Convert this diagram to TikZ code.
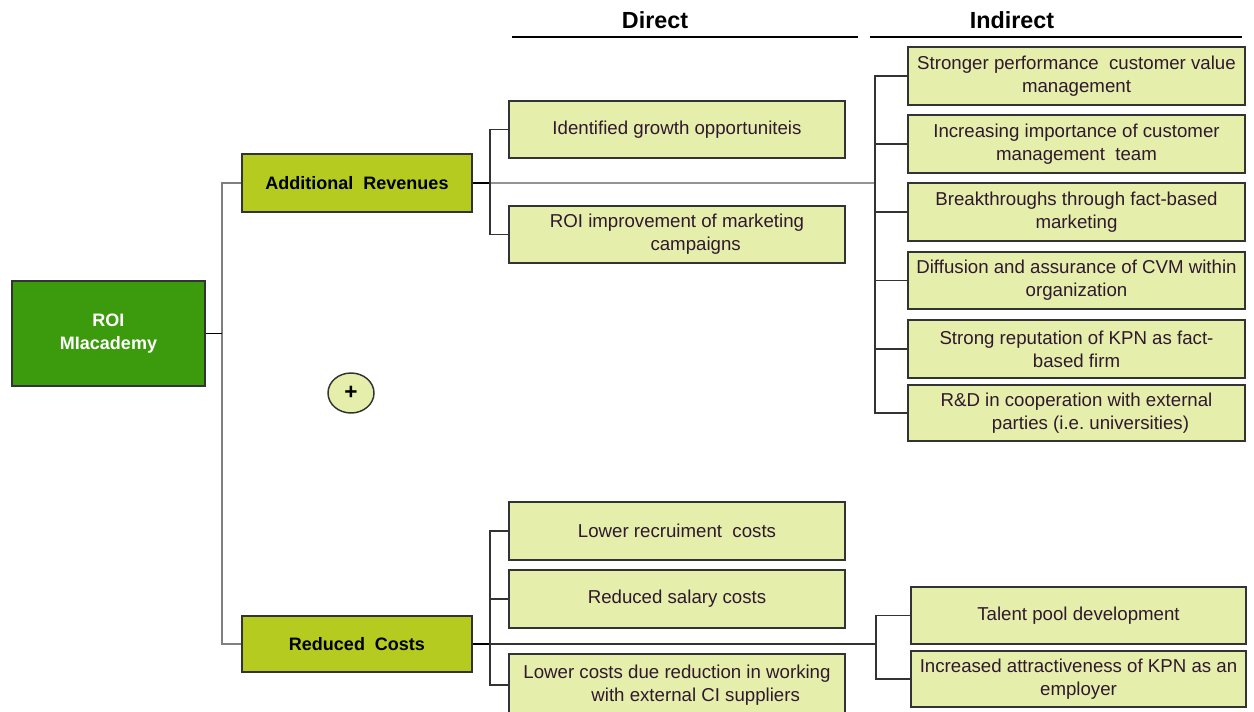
\documentclass[tikz,border=0pt]{standalone}
\usepackage{fontspec}
\setmainfont{Liberation Sans}
\usetikzlibrary{shapes.geometric}
\definecolor{roigreen}{HTML}{3C9A0D}
\definecolor{midgreen}{HTML}{B5CB1F}
\definecolor{lightgreen}{HTML}{E5EFAB}
\definecolor{boxtext}{HTML}{30182F}
\definecolor{edge}{HTML}{333333}
\tikzset{
  basebox/.style={draw=edge, line width=1.1pt, inner sep=0pt, align=center},
  rootbox/.style={basebox, fill=roigreen, text=white, font=\bfseries\fontsize{13.5}{17.25}\selectfont},
  catbox/.style={basebox, fill=midgreen, text=black, font=\bfseries\fontsize{13.5}{17.25}\selectfont},
  leafbox/.style={basebox, fill=lightgreen, text=boxtext, font=\fontsize{14}{17.25}\selectfont},
  conn/.style={draw=edge, line width=0.8pt},
  stub/.style={draw=black, line width=1.4pt},
  greyconn/.style={draw=gray!85, line width=1.2pt},
  header/.style={font=\bfseries\fontsize{17.5}{19}\selectfont, text=black, inner sep=0pt},
  hline/.style={draw=black, line width=1pt},
}
\newcommand\mybox[7]{\node[#2, minimum width={(#5-#3)*0.75pt}, minimum height={(#6-#4)*0.75pt}] (#1) at ({(#3+#5)/2},{(#4+#6)/2}) {#7};}
\begin{document}
\begin{tikzpicture}[x=0.75pt,y=-0.75pt]
\useasboundingbox (0,0) rectangle (1254,711);
\clip (0,0) rectangle (1254,711);
\fill[white] (0,0) rectangle (1254,711);

% headers
\node[header] (hdirect) at (655,20) {Direct};
\node[header] (hindirect) at (1012,20) {Indirect};
\coordinate (hd1) at (512,37); \coordinate (hd2) at (858,37);
\coordinate (hi1) at (870,37); \coordinate (hi2) at (1242,37);
\draw[hline] (hd1) -- (hd2);
\draw[hline] (hi1) -- (hi2);

% root
\mybox{roi}{rootbox}{12}{281}{205}{386}{ROI\\MIacademy}

% categories
\mybox{ar}{catbox}{242}{154}{472}{212}{Additional\ \ Revenues}
\mybox{rc}{catbox}{242}{616}{472}{672}{Reduced\ \ Costs}

% direct leaves
\mybox{d1}{leafbox}{509}{101}{845}{158}{Identified growth opportuniteis}
\mybox{d2}{leafbox}{509}{206}{845}{263}{ROI improvement of marketing\\\hspace*{2em}campaigns}
\mybox{d3}{leafbox}{509}{502}{845}{560}{Lower recruiment\ \ costs}
\mybox{d4}{leafbox}{509}{570}{845}{628}{Reduced salary costs}
\mybox{d5}{leafbox}{509}{654}{845}{716}{Lower costs due reduction in working\\\hspace*{2em}with external CI suppliers}

% indirect leaves
\mybox{i1}{leafbox}{908}{47}{1245}{105}{Stronger performance\ \ customer value\\management}
\mybox{i2}{leafbox}{908}{115}{1245}{173}{Increasing\ importance of customer\\management\ \ team}
\mybox{i3}{leafbox}{908}{183}{1245}{241}{Breakthroughs\ through fact-based\\marketing}
\mybox{i4}{leafbox}{908}{252}{1245}{309}{Diffusion and assurance of CVM within\\organization}
\mybox{i5}{leafbox}{908}{320}{1245}{378}{Strong reputation of KPN as fact-\\based firm}
\mybox{i6}{leafbox}{908}{385}{1245}{441}{R\&D in cooperation with external\\\hspace*{1.5em}parties (i.e.\ universities)}

\mybox{t1}{leafbox}{911}{587}{1246}{644}{Talent\ pool development}
\mybox{t2}{leafbox}{911}{651}{1246}{707}{Increased\ attractiveness of KPN as an\\employer}

% plus
\node[ellipse, draw=edge, line width=1.1pt, fill=lightgreen, minimum width=34.5pt, minimum height=30pt, inner sep=0pt, font=\bfseries\fontsize{17}{17}\selectfont] (plus) at (351,393) {+};

% junctions
\coordinate (j1) at (222,333.5);
\coordinate (j2) at (490,183);
\coordinate (j3) at (875,183);
\coordinate (j4) at (490,644);
\coordinate (j5) at (876,644);

% root connectors
\draw[greyconn, draw=gray] (ar.west) -| (j1) |- (rc.west);
\draw[stub] (roi.east) -- (j1);

% additional revenues
\draw[greyconn] (j2) -- (j3);
\draw[stub] (ar.east) -- (j2);
\draw[conn] (d1.west) -| (j2) |- (d2.west);
\draw[conn] (i1.west) -| (j3) |- (i6.west);
\draw[conn] (i2.west) -- (i2.west -| j3);
\draw[conn] (i3.west) -- (i3.west -| j3);
\draw[conn] (i4.west) -- (i4.west -| j3);
\draw[conn] (i5.west) -- (i5.west -| j3);

% reduced costs
\draw[conn, line width=1pt] (j4) -- (j5);
\draw[stub] (rc.east) -- (j4);
\draw[conn] (d3.west) -| (j4) |- (d5.west);
\draw[conn] (d4.west) -- (d4.west -| j4);
\draw[conn] (t1.west) -| (j5) |- (t2.west);
\end{tikzpicture}
\end{document}
